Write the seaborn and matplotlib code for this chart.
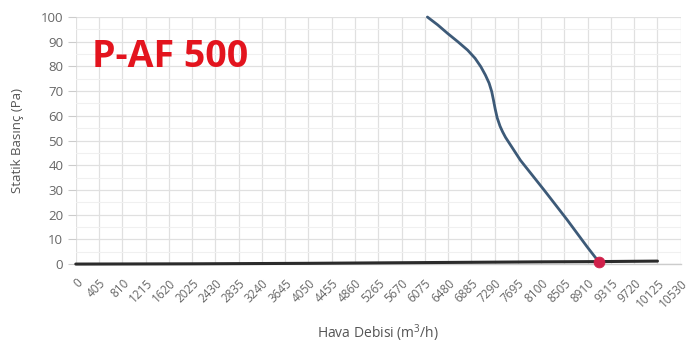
import matplotlib
matplotlib.use("Agg")
import matplotlib.pyplot as plt
import seaborn as sns
import numpy as np
import pandas as pd

# Fan curve (Hava Debisi m3/h vs Statik Basınç Pa)
fan_flow = [6120, 6300, 6470, 6650, 6820, 6950, 7050, 7130, 7195, 7240, 7270,
            7300, 7335, 7385, 7430, 7480, 7740, 8150, 8550, 8900, 9100]
fan_pressure = [100, 96.8, 93.4, 90, 86.6, 83.3, 79.9, 76.5, 73.2, 69.8, 66.4,
                62.8, 59.2, 55.8, 53.5, 51.3, 42, 30, 18, 7, 1]

# System curve (nearly flat)
sys_flow = [0, 2025, 4050, 6075, 8100, 9100, 10125]
sys_pressure = [0, 0.1, 0.3, 0.6, 0.9, 1.0, 1.2]

# Operating point
op_flow = [9100]
op_pressure = [1]

x_ticks = [i * 405 for i in range(27)]
y_ticks = [0, 10, 20, 30, 40, 50, 60, 70, 80, 90, 100]

title = "P-AF 500"
xlabel = "Hava Debisi (m$^3$/h)"
ylabel = "Statik Basınç (Pa)"

sns.set_theme(style="white")
plt.rcParams['font.family'] = ['Open Sans', 'DejaVu Sans']
plt.rcParams['mathtext.fontset'] = 'custom'
plt.rcParams['mathtext.rm'] = 'Open Sans'

fig = plt.figure(figsize=(6.89, 3.47), dpi=100)
ax = fig.add_axes([0.110, 0.239, 0.878, 0.712])

df_fan = pd.DataFrame({"x": fan_flow, "y": fan_pressure})
df_sys = pd.DataFrame({"x": sys_flow, "y": sys_pressure})
df_op = pd.DataFrame({"x": op_flow, "y": op_pressure})

sns.lineplot(data=df_sys, x="x", y="y", ax=ax, color="#2b2b2b", linewidth=2.2,
             clip_on=False, zorder=3)
sns.lineplot(data=df_fan, x="x", y="y", ax=ax, color="#3d5a78", linewidth=2.0,
             clip_on=False, zorder=4)
sns.scatterplot(data=df_op, x="x", y="y", ax=ax, color="#d0204a", s=60,
                marker="o", edgecolor="#d0204a", clip_on=False, zorder=5)

ax.set_xlim(0, 10530)
ax.set_ylim(0, 100)
ax.set_xticks(x_ticks)
ax.set_xticklabels([str(v) for v in x_ticks], rotation=45, ha="right",
                   rotation_mode="anchor", fontsize=8.5, color="#666666")
ax.set_yticks(y_ticks)
ax.set_yticklabels([str(v) for v in y_ticks], fontsize=9.5, color="#666666")
ax.set_yticks([5, 15, 25, 35, 45, 55, 65, 75, 85, 95], minor=True)

ax.grid(True, which="major", color="#e0e0e0", linewidth=0.9)
ax.grid(True, which="minor", axis="y", color="#f0f0f0", linewidth=0.8)
ax.set_axisbelow(True)

for s in ["top", "right", "left"]:
    ax.spines[s].set_visible(False)
ax.spines["bottom"].set_color("#cccccc")
ax.spines["bottom"].set_linewidth(1.0)

ax.tick_params(axis="y", which="major", length=6, width=0.8, color="#cccccc", pad=3, left=True)
ax.tick_params(axis="y", which="minor", length=0)
ax.tick_params(axis="x", length=0, pad=9)

ax.set_xlabel(xlabel, fontsize=10, color="#555555", labelpad=9)
ax.set_ylabel(ylabel, fontsize=9.5, color="#555555", labelpad=12)

ax.text(0.026, 0.84, title, transform=ax.transAxes, fontsize=27,
        fontweight="bold", color="#e3141e", ha="left", va="center")

fig.savefig("out.png", dpi=100)
